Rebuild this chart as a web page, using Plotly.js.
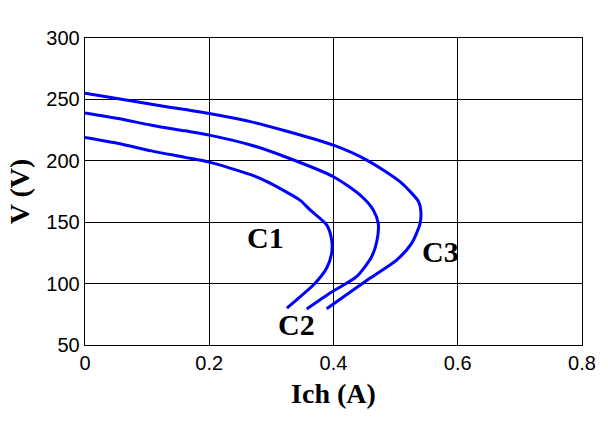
<!DOCTYPE html>
<html>
<head>
<meta charset="utf-8">
<script src="https://cdn.plot.ly/plotly-3.0.1.min.js"></script>
<style>html,body{margin:0;padding:0;background:#fff;}#chart{width:608px;height:432px;}</style>
</head>
<body>
<div id="chart"></div>
<script>
// Curve C1
const c1_I = [0, 0.054, 0.107, 0.161, 0.2, 0.268, 0.293, 0.346, 0.3623, 0.389, 0.397, 0.397, 0.389, 0.368, 0.341, 0.325];
const c1_V = [219, 214.1, 208.1, 202.8, 198.9, 188.5, 183, 168, 160, 147.8, 135.6, 124.8, 112.7, 99, 87, 80];
// Curve C2
const c2_I = [0, 0.054, 0.107, 0.161, 0.2, 0.268, 0.322, 0.4, 0.443, 0.464, 0.472, 0.4697, 0.4616, 0.4375, 0.3945, 0.357];
const c2_V = [239, 234.4, 229, 224.4, 220.9, 212.7, 203.3, 187, 172, 160, 149.2, 134.3, 122.1, 105.9, 92.4, 79.4];
// Curve C3
const c3_I = [0, 0.054, 0.107, 0.161, 0.2, 0.268, 0.322, 0.4, 0.4536, 0.507, 0.537, 0.5404, 0.5395, 0.526, 0.502, 0.459, 0.389];
const c3_V = [255, 250.6, 246, 241.7, 238.5, 231.7, 224.5, 212.7, 200.6, 183, 166.7, 160, 149.2, 133, 119.4, 104.5, 79.6];
// Labels
const labelText = ['C1', 'C2', 'C3'];
const labelI = [0.29, 0.341, 0.572];
const labelV = [137.3, 66.6, 126.3];
const xTicks = [0, 0.2, 0.4, 0.6, 0.8];
const yTicks = [50, 100, 150, 200, 250, 300];

const lineStyle = {color: '#0000FF', width: 3, shape: 'spline', smoothing: 0.7};
const traces = [
  {x: c1_I, y: c1_V, mode: 'lines', line: lineStyle, hoverinfo: 'skip'},
  {x: c2_I, y: c2_V, mode: 'lines', line: lineStyle, hoverinfo: 'skip'},
  {x: c3_I, y: c3_V, mode: 'lines', line: lineStyle, hoverinfo: 'skip'}
];

const serif = 'Liberation Serif, Times New Roman, serif';
const annotations = labelText.map((t, i) => ({
  x: labelI[i], y: labelV[i], xref: 'x', yref: 'y', text: '<b>' + t + '</b>',
  showarrow: false, font: {family: serif, size: 30, color: '#000'}
}));

const axisCommon = {
  showgrid: true, gridcolor: '#000', gridwidth: 1.3,
  showline: true, linecolor: '#000', linewidth: 1.3, mirror: 'allticks',
  ticks: 'inside', ticklen: 4, tickcolor: '#000', tickwidth: 1.3,
  zeroline: false,
  tickfont: {family: 'Liberation Sans, Arial, sans-serif', size: 20, color: '#000'}
};

const layout = {
  width: 608, height: 432,
  margin: {l: 85, r: 26, t: 37.5, b: 86.5},
  paper_bgcolor: '#fff', plot_bgcolor: '#fff',
  showlegend: false,
  xaxis: Object.assign({}, axisCommon, {
    range: [0, 0.8], tickvals: xTicks, ticktext: xTicks.map(String),
    title: {text: '<b>Ich (A)</b>', font: {family: serif, size: 28, color: '#000'}, standoff: 10}
  }),
  yaxis: Object.assign({}, axisCommon, {
    range: [50, 300], tickvals: yTicks, ticktext: yTicks.map(String),
    title: {text: '<b>V (V)</b>', font: {family: serif, size: 28, color: '#000'}, standoff: 8}
  }),
  annotations: annotations
};

Plotly.newPlot('chart', traces, layout, {staticPlot: true, displayModeBar: false});
</script>
</body>
</html>
